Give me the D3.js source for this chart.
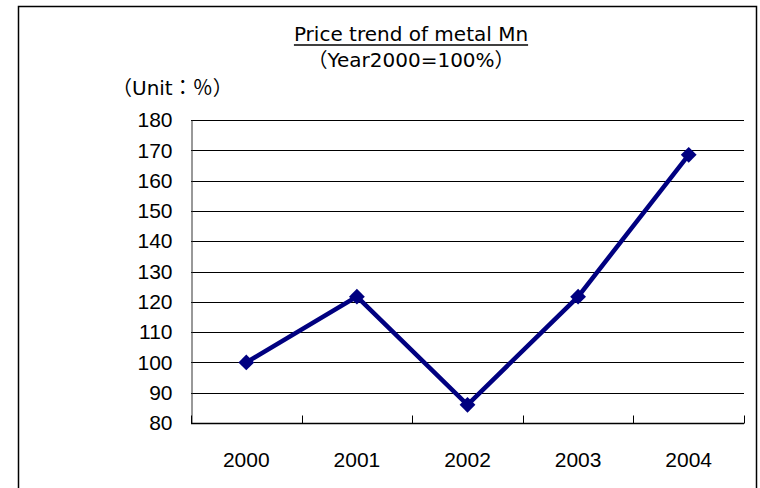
<!DOCTYPE html>
<html>
<head>
<meta charset="utf-8">
<script src="https://cdn.jsdelivr.net/npm/d3@7"></script>
<style>
  body { margin: 0; background: #fff; }
  svg { display: block; }
  text { font-family: "Liberation Sans", Arial, sans-serif; fill: #000; }
  .jp { font-family: "DejaVu Sans", "Noto Sans CJK JP", sans-serif; }
</style>
</head>
<body>
<svg id="chart"></svg>
<script>
// chart data
const years = ['2000', '2001', '2002', '2003', '2004'];
const priceIndex = [100, 121.7, 86, 121.7, 168.5];
const yTicks = [80, 90, 100, 110, 120, 130, 140, 150, 160, 170, 180];

const width = 760, height = 488;
const margin = { top: 120, right: 16, bottom: 65, left: 191 };

const svg = d3.select('#chart')
  .attr('width', width)
  .attr('height', height);

// outer frame (bottom edge runs off the picture)
svg.append('rect')
  .attr('x', 18.5)
  .attr('y', 6.5)
  .attr('width', 738)
  .attr('height', 520)
  .attr('fill', 'none')
  .attr('stroke', '#000')
  .attr('stroke-width', 1.5);

const x = d3.scaleBand()
  .domain(years)
  .range([margin.left, width - margin.right])
  .padding(0);

const y = d3.scaleLinear()
  .domain([80, 180])
  .range([height - margin.bottom, margin.top]);

// gridlines
svg.append('g')
  .selectAll('line')
  .data(yTicks.filter(d => d > 80))
  .enter()
  .append('line')
  .attr('x1', margin.left)
  .attr('x2', width - margin.right)
  .attr('y1', d => Math.round(y(d)) + 0.5)
  .attr('y2', d => Math.round(y(d)) + 0.5)
  .attr('stroke', '#000')
  .attr('stroke-width', 1);

// y axis
const yAxis = d3.axisLeft(y).tickValues(yTicks).tickSize(0).tickPadding(19);
const gy = svg.append('g')
  .attr('transform', `translate(${margin.left + 0.5},0)`)
  .call(yAxis);
gy.select('.domain').attr('stroke', '#333');
gy.selectAll('text')
  .attr('font-size', '21px')
  .attr('font-family', '"Liberation Sans", Arial, sans-serif');

// x axis with inward ticks at category boundaries
const baseY = Math.round(y(80)) + 0.5;
svg.append('line')
  .attr('x1', margin.left)
  .attr('x2', width - margin.right)
  .attr('y1', baseY)
  .attr('y2', baseY)
  .attr('stroke', '#000')
  .attr('stroke-width', 1.5);

const boundaries = years.map(d => x(d)).concat([x(years[years.length - 1]) + x.bandwidth()]);
svg.append('g')
  .selectAll('line')
  .data(boundaries)
  .enter()
  .append('line')
  .attr('x1', d => Math.round(d) + 0.5)
  .attr('x2', d => Math.round(d) + 0.5)
  .attr('y1', baseY)
  .attr('y2', baseY - 8)
  .attr('stroke', '#000');

svg.append('g')
  .selectAll('text')
  .data(years)
  .enter()
  .append('text')
  .attr('x', d => x(d) + x.bandwidth() / 2)
  .attr('y', 467)
  .attr('text-anchor', 'middle')
  .attr('font-size', '21px')
  .text(d => d);

// line + diamond markers
const pts = years.map((d, i) => [x(d) + x.bandwidth() / 2, y(priceIndex[i])]);

svg.append('path')
  .datum(pts)
  .attr('d', d3.line())
  .attr('fill', 'none')
  .attr('stroke', '#000080')
  .attr('stroke-width', 4.5)
  .attr('stroke-linejoin', 'miter');

svg.append('g')
  .selectAll('path')
  .data(pts)
  .enter()
  .append('path')
  .attr('d', d3.symbol().type(d3.symbolSquare).size(125))
  .attr('transform', d => `translate(${d[0]},${d[1]}) rotate(45)`)
  .attr('fill', '#000080');

// titles
const title = svg.append('text')
  .attr('class', 'jp')
  .attr('x', 411)
  .attr('y', 41)
  .attr('text-anchor', 'middle')
  .attr('font-size', '20px')
  .text('Price trend of metal Mn');

// underline sized to the title text
const tb = title.node().getBBox();
svg.append('line')
  .attr('x1', tb.x)
  .attr('x2', tb.x + tb.width)
  .attr('y1', 45)
  .attr('y2', 45)
  .attr('stroke', '#000')
  .attr('stroke-width', 1.5);

svg.append('text')
  .attr('class', 'jp')
  .attr('x', 411)
  .attr('y', 67)
  .attr('text-anchor', 'middle')
  .attr('font-size', '20px')
  .text('（Year2000=100%）');

svg.append('text')
  .attr('class', 'jp')
  .attr('x', 112)
  .attr('y', 95)
  .attr('font-size', '20px')
  .text('（Unit：％）');
</script>
</body>
</html>
